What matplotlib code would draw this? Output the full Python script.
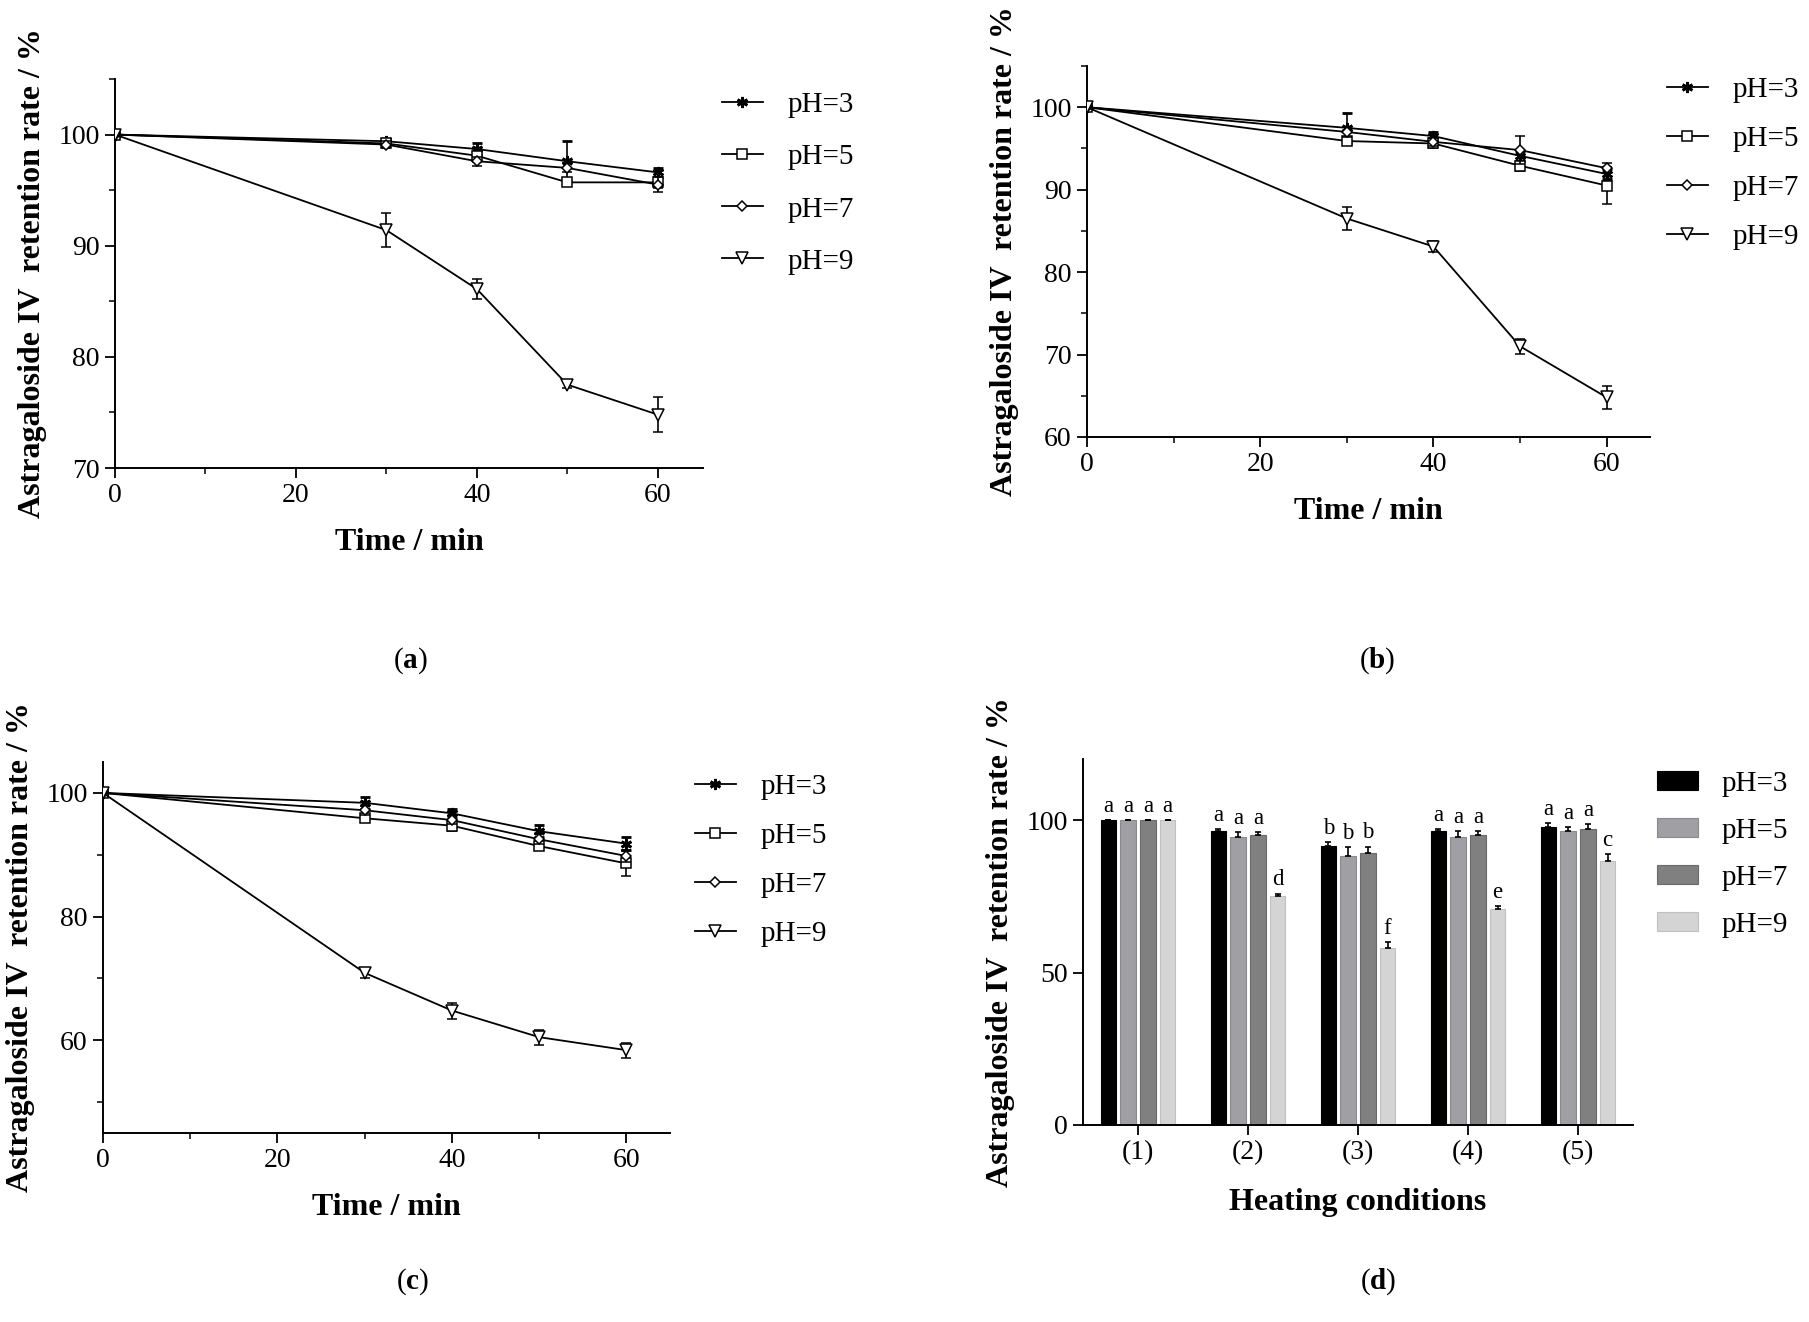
import numpy as np
import matplotlib
matplotlib.use("Agg")
import matplotlib.pyplot as plt
from matplotlib.ticker import MultipleLocator

plt.rcParams['font.family'] = ['Liberation Serif', 'DejaVu Serif']
plt.rcParams['mathtext.fontset'] = 'custom'
plt.rcParams['mathtext.rm'] = 'Liberation Serif'
plt.rcParams['mathtext.bf'] = 'Liberation Serif:bold'

# --- data ---
time = [0, 30, 40, 50, 60]
ph_labels = ['pH=3', 'pH=5', 'pH=7', 'pH=9']

# panel (a)
a_ph3 = [100, 99.4, 98.7, 97.6, 96.6]
a_ph5 = [100, 99.2, 98.1, 95.7, 95.7]
a_ph7 = [100, 99.1, 97.6, 97.0, 95.5]
a_ph9 = [100, 91.4, 86.1, 77.5, 74.8]
a_err3 = [0, 0.2, 0.5, 1.8, 0.4]
a_err5 = [0, 0.3, 0.6, 0.3, 0.5]
a_err7 = [0, 0.3, 0.4, 0.4, 0.7]
a_err9 = [0, 1.5, 0.9, 0.3, 1.6]

# panel (b)
b_ph3 = [100, 97.5, 96.5, 94.1, 91.9]
b_ph5 = [100, 95.9, 95.6, 92.9, 90.5]
b_ph7 = [100, 97.0, 95.8, 94.8, 92.6]
b_ph9 = [100, 86.5, 83.1, 71.0, 64.8]
b_err3 = [0, 1.8, 0.5, 0.6, 0.6]
b_err5 = [0, 0.5, 0.5, 0.6, 2.2]
b_err7 = [0, 0.6, 0.5, 1.7, 0.6]
b_err9 = [0, 1.4, 0.7, 0.9, 1.4]

# panel (c)
c_ph3 = [100, 98.4, 96.7, 93.8, 91.8]
c_ph5 = [100, 95.9, 94.7, 91.4, 88.6]
c_ph7 = [100, 97.2, 95.6, 92.5, 89.8]
c_ph9 = [100, 70.9, 64.8, 60.5, 58.4]
c_err3 = [0, 1.0, 0.7, 1.0, 1.0]
c_err5 = [0, 0.6, 0.8, 0.6, 2.0]
c_err7 = [0, 0.7, 0.7, 0.8, 0.9]
c_err9 = [0, 0.8, 1.3, 1.2, 1.2]

# panel (d)
conditions = ['(1)', '(2)', '(3)', '(4)', '(5)']
d_ph3 = [100, 96.3, 91.4, 96.3, 97.8]
d_ph5 = [100, 94.3, 88.3, 94.4, 96.4]
d_ph7 = [100, 95.0, 89.1, 95.1, 97.1]
d_ph9 = [100, 75.0, 57.9, 70.8, 86.6]
d_err3 = [0, 0.7, 1.3, 0.7, 1.3]
d_err5 = [0, 1.9, 2.7, 1.9, 1.3]
d_err7 = [0, 1.0, 2.2, 1.2, 1.7]
d_err9 = [0, 0.9, 2.0, 1.1, 2.2]
d_letters3 = ['a', 'a', 'b', 'a', 'a']
d_letters5 = ['a', 'a', 'b', 'a', 'a']
d_letters7 = ['a', 'a', 'b', 'a', 'a']
d_letters9 = ['a', 'd', 'f', 'e', 'c']

W, H = 1809, 1322
fig = plt.figure(figsize=(W / 100, H / 100), dpi=100)


def rect(l, r, t, b):
    return [l / W, 1 - b / H, (r - l) / W, (b - t) / H]


TICK_FS = 20
LAB_FS = 23
LEG_FS = 21

markers = [dict(marker=(6, 2, 0), ms=8, mfc='black', mec='black', mew=2.0),
           dict(marker='s', ms=7, mfc='white', mec='black', mew=1.1),
           dict(marker='D', ms=5.5, mfc='white', mec='black', mew=1.1),
           dict(marker='v', ms=8.5, mfc='white', mec='black', mew=1.1)]


def style_axes(ax):
    for s in ['top', 'right']:
        ax.spines[s].set_visible(False)
    for s in ['left', 'bottom']:
        ax.spines[s].set_linewidth(1.4)
    ax.tick_params(which='major', direction='out', length=7, width=1.3,
                   labelsize=TICK_FS, pad=4)
    ax.tick_params(which='minor', direction='out', length=4.5, width=1.1)


def line_panel(ax, series, errs, ylim, ymajor, yminor, leg_xy, spacing):
    for k, (vals, err) in enumerate(zip(series, errs)):
        ax.errorbar(time, vals, yerr=err, color='black', lw=1.3,
                    elinewidth=1.2, capsize=3.5, capthick=1.2,
                    label=ph_labels[k], zorder=3 + k, **markers[k])
    ax.set_xlim(0, 65)
    ax.set_ylim(*ylim)
    ax.xaxis.set_major_locator(MultipleLocator(20))
    ax.xaxis.set_minor_locator(MultipleLocator(10))
    ax.yaxis.set_major_locator(MultipleLocator(ymajor))
    ax.yaxis.set_minor_locator(MultipleLocator(yminor))
    style_axes(ax)
    ax.set_xlabel('Time / min', fontsize=LAB_FS, fontweight='bold', labelpad=14)
    ax.set_ylabel('Astragaloside IV  retention rate / %', fontsize=LAB_FS,
                  fontweight='bold', labelpad=8)
    handles, labels = ax.get_legend_handles_labels()
    handles = [h[0] for h in handles]
    ax.legend(handles, labels, loc='upper left', bbox_to_anchor=leg_xy,
              bbox_transform=fig.transFigure, frameon=False, fontsize=LEG_FS,
              borderpad=0, borderaxespad=0, handlelength=1.4,
              handletextpad=0.85, labelspacing=spacing)


ax_a = fig.add_axes(rect(115, 703, 79, 468))
line_panel(ax_a, [a_ph3, a_ph5, a_ph7, a_ph9], [a_err3, a_err5, a_err7, a_err9],
           (70, 105), 10, 5, (722 / W, 1 - 92 / H), 0.88)

ax_b = fig.add_axes(rect(1087, 1650, 66, 437))
line_panel(ax_b, [b_ph3, b_ph5, b_ph7, b_ph9], [b_err3, b_err5, b_err7, b_err9],
           (60, 105), 10, 5, (1667 / W, 1 - 77 / H), 0.77)

ax_c = fig.add_axes(rect(103, 670, 762, 1133))
line_panel(ax_c, [c_ph3, c_ph5, c_ph7, c_ph9], [c_err3, c_err5, c_err7, c_err9],
           (45, 105), 20, 10, (695 / W, 1 - 774 / H), 0.77)

# panel (d) bars
ax_d = fig.add_axes(rect(1083, 1633, 759, 1125))
bar_vals = [d_ph3, d_ph5, d_ph7, d_ph9]
bar_errs = [d_err3, d_err5, d_err7, d_err9]
bar_letters = [d_letters3, d_letters5, d_letters7, d_letters9]
bar_colors = ['#000000', '#a0a0a4', '#808080', '#d4d4d4']
bar_edges = ['#000000', '#8a8a8e', '#6a6a6a', '#c0c0c0']
x = np.arange(len(conditions))
pitch = 0.179
bw = 0.14
for k in range(4):
    pos = x + (k - 1.5) * pitch
    vals = np.array(bar_vals[k])
    err = np.array(bar_errs[k])
    ax_d.bar(pos, vals, width=bw, color=bar_colors[k], edgecolor=bar_edges[k],
             linewidth=0.8, label=ph_labels[k], zorder=2)
    ax_d.errorbar(pos, vals, yerr=[np.zeros_like(err), err], fmt='none',
                  ecolor='black', elinewidth=1.2, capsize=2.5, capthick=1.2,
                  zorder=3)
    for p, v, e, t in zip(pos, vals, err, bar_letters[k]):
        ax_d.text(p, v + e + 1.0, t, ha='center', va='bottom', fontsize=16.5)
ax_d.set_xlim(-0.5, 4.5)
ax_d.set_ylim(0, 120)
ax_d.set_xticks(x)
ax_d.set_xticklabels(conditions)
ax_d.yaxis.set_major_locator(MultipleLocator(50))
style_axes(ax_d)
ax_d.set_xlabel('Heating conditions', fontsize=LAB_FS, fontweight='bold',
                labelpad=16)
ax_d.set_ylabel('Astragaloside IV  retention rate / %', fontsize=LAB_FS,
                fontweight='bold', labelpad=8)
ax_d.legend(loc='upper left', bbox_to_anchor=(1657 / W, 1 - 771 / H),
            bbox_transform=fig.transFigure, frameon=False, fontsize=LEG_FS,
            borderpad=0, borderaxespad=0, handlelength=1.4, handleheight=0.65,
            handletextpad=0.8, labelspacing=0.72)

# panel labels
for lab, (px, py) in zip(['a', 'b', 'c', 'd'],
                         [(410, 661), (1377, 661), (413, 1282), (1378, 1282)]):
    fig.text(px / W, 1 - py / H, r'($\mathbf{%s}$)' % lab, ha='center',
             va='center', fontsize=21)

fig.savefig('out.png', dpi=100)
